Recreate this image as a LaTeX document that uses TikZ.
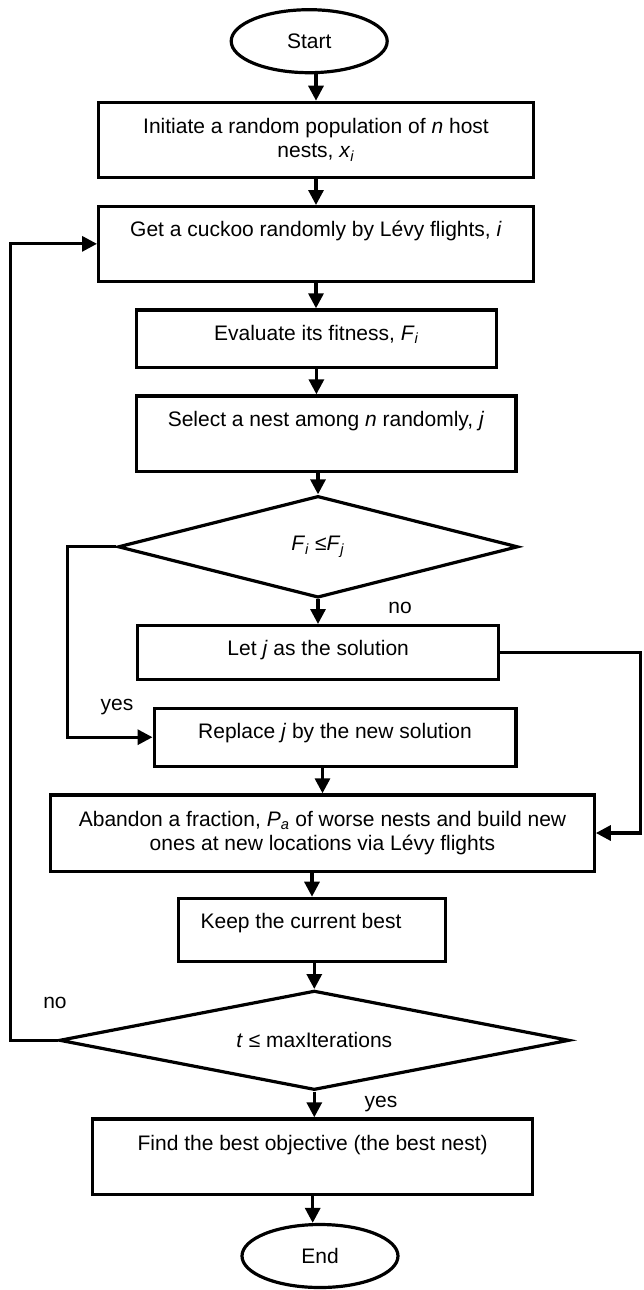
\documentclass[tikz,border=0pt]{standalone}
\usepackage{fontspec}
\setmainfont{Liberation Sans}
\usepackage{tikz}
\usetikzlibrary{arrows.meta, shapes.geometric}

\begin{document}
\begin{tikzpicture}[x=1pt, y=-1pt, font=\fontsize{21}{24}\selectfont,
  proc/.style={draw, line width=3.2pt, inner xsep=0pt, inner ysep=0pt, align=center, anchor=north},
  term/.style={draw, ellipse, line width=3.2pt, inner sep=0pt, minimum width=156pt, minimum height=63pt},
  decide/.style={draw, diamond, aspect=4, line width=3.2pt, inner sep=0pt},
  arr/.style={-{Triangle[length=15pt, width=15pt]}, line width=3.2pt},
  lbl/.style={anchor=base, inner sep=0pt}]
  \useasboundingbox (0,0) rectangle (643,1290);
  % Terminals and process boxes
  \node[term] (start) at (309.2, 41.2) {Start};
  \node[proc, minimum width=434.8pt, minimum height=75.4pt]
    (init) at (316, 100.7) {Initiate a random population of \textit{n} host\\nests, \textit{x}\textsubscript{\textit{i}}};
  \node[proc, minimum width=434.8pt, text height=29.4pt, text depth=45.1pt]
    (cuckoo) at (316, 205) {Get a cuckoo randomly by Lévy flights, \textit{i}};
  \node[proc, minimum width=360.6pt, text height=30.1pt, text depth=27.7pt]
    (fitness) at (316.4, 308.3) {Evaluate its fitness, \textit{F}\textsubscript{\textit{i}}};
  \node[proc, minimum width=379.8pt, text height=30.8pt, text depth=44.4pt]
    (select) at (326, 394.3) {Select a nest among \textit{n} randomly, \textit{j}};
  \node[decide, minimum width=400pt, minimum height=101.7pt]
    (cmp) at (318, 546.8) {\textit{F}\textsubscript{\textit{i}} ≤\textit{F}\textsubscript{\textit{j}}};
  \node[proc, minimum width=361pt, text height=29.4pt, text depth=24.1pt]
    (letj) at (318.2, 624) {Let \textit{j} as the solution};
  \node[proc, minimum width=361.8pt, text height=30pt, text depth=27.8pt]
    (replace) at (335, 706.7) {Replace \textit{j} by the new solution};
  \node[proc, minimum width=543.5pt, minimum height=76.2pt]
    (abandon) at (322.5, 793.3) {Abandon a fraction, \textit{P}\textsubscript{\textit{a}} of worse nests and build new\\ones at new locations via Lévy flights};
  \node[proc, minimum width=266.6pt, text height=30pt, text depth=33.4pt]
    (keep) at (312, 896.7) {Keep the current best\hspace{22pt}};
  \node[decide, minimum width=510pt, minimum height=99.4pt]
    (iter) at (314.3, 1040.3) {\textit{t} ≤ maxIterations};
  \node[proc, minimum width=440pt, text height=31.1pt, text depth=44.1pt]
    (best) at (312.7, 1117.3) {Find the best objective (the best nest)};
  \node[term] (finish) at (320, 1256) {End};
  % Branch labels
  \node[lbl] (cmpno) at (400, 613) {no};
  \node[lbl] (cmpyes) at (117, 710) {yes};
  \node[lbl] (iterno) at (55, 1008) {no};
  \node[lbl] (iteryes) at (381, 1107) {yes};
  % Main flow
  \draw[arr] (start.south -| init.north) -- (init.north);
  \draw[arr] (init) -- (cuckoo);
  \draw[arr] (cuckoo.south) -- (cuckoo.south |- fitness.north);
  \draw[arr] (fitness.south) -- (fitness.south |- select.north);
  \draw[arr] (select.south -| cmp.north) -- (cmp.north);
  \draw[arr] (cmp.south) -- (cmp.south |- letj.north);
  \draw[arr] (replace.south -| abandon.north) -- (abandon.north);
  \draw[arr] (abandon.south -| keep.north) -- (keep.north);
  \draw[arr] (keep.south -| iter.north) -- (iter.north);
  \draw[arr] (iter.south) -- (iter.south |- best.north);
  \draw[arr] (best.south) -- (best.south |- finish.north);
  % Side branches and loop back
  \coordinate (yesx) at (67.7, 0);
  \coordinate (nox) at (640.5, 0);
  \coordinate (loopx) at (10.5, 0);
  \draw[arr] (cmp.west) -- (cmp.west -| yesx) |- (replace.west);
  \draw[arr] (letj.east) -- (letj.east -| nox) |- (abandon.east);
  \draw[arr] (iter.west) -- (iter.west -| loopx) |- (cuckoo.west);
\end{tikzpicture}
\end{document}
